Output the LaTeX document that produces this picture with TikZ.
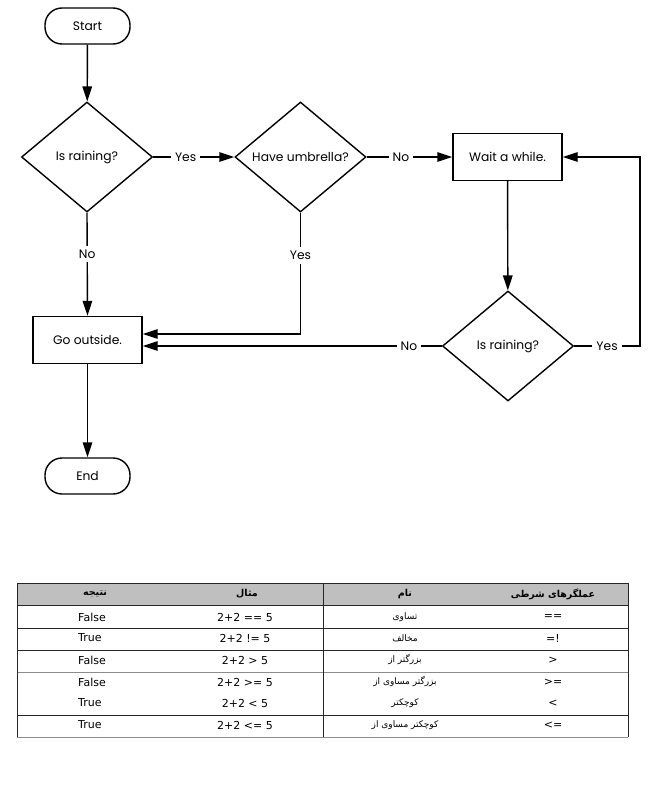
\documentclass[tikz,border=0pt]{standalone}
\usepackage{fontspec}
\setmainfont{Poppins}
\newfontfamily\tabfont{DejaVu Sans}
\newfontfamily\arabicfont[Script=Arabic]{DejaVu Sans}
\TeXXeTstate=1
\usetikzlibrary{shapes.geometric,arrows.meta}
\begin{document}
\begin{tikzpicture}[x=1pt,y=-1pt,
  flow/.style={draw,line width=1.4pt,font=\fontsize{12.3}{14}\selectfont,inner sep=0pt},
  term/.style={flow,rectangle,rounded corners=17pt,minimum width=85pt,minimum height=36pt},
  proc/.style={flow,rectangle,minimum width=109pt,minimum height=47pt},
  dec/.style={flow,diamond,minimum width=131pt,minimum height=110pt},
  conn/.style={line width=1.4pt,-{Triangle[length=15pt,width=9.5pt]}},
  lbl/.style={fill=white,inner sep=4pt,font=\fontsize{12.3}{14}\selectfont},
  tline/.style={line width=0.8pt,draw=black!85},
  gline/.style={line width=0.8pt,draw=black!45},
  ttxt/.style={font=\tabfont\fontsize{11}{12}\selectfont,inner sep=0pt},
  ptxt/.style={font=\arabicfont\fontsize{9}{10}\selectfont,inner sep=0pt},
  htxt/.style={font=\arabicfont\bfseries\fontsize{9.5}{11}\selectfont,inner sep=0pt}]
\useasboundingbox (0,0) rectangle (661,800);
% flowchart nodes
\node[term] (start) at (87.5,26) {Start};
\node[dec]  (d1) at (87,157) {Is raining?};
\node[dec]  (d2) at (300.5,157) {Have umbrella?};
\node[proc] (wait) at (507.5,157) {Wait a while.};
\node[dec]  (d3) at (508,346) {Is raining?};
\node[proc] (go) at (87.5,340) {Go outside.};
\node[term] (end) at (87.5,476) {End};
\coordinate (c1) at (300.5,334);
\coordinate (c2) at (640,346);
% connectors
\draw[conn] (start) -- (d1);
\draw[conn] (d1.east) -- node[lbl,pos=0.4]{Yes} (d2.west);
\draw[conn] (d2.east) -- node[lbl,pos=0.4]{No} (wait.west);
\draw[conn] (wait) -- (d3);
\draw[conn] (d1.south) -- node[lbl,pos=0.4]{No} (go.north);
\draw[conn] (d2.south) -- node[lbl,pos=0.35]{Yes} (c1) -- (go.east |- c1);
\draw[conn] (d3.west) -- node[lbl,pos=0.11]{No} (go.east |- d3.west);
\draw[conn] (d3.east) -- node[lbl,pos=0.5]{Yes} (c2) -- (c2 |- wait.east) -- (wait.east);
\draw[conn] (go) -- (end);
% table
\fill[black!25] (17,583) rectangle (628,605);
\draw[tline] (17,583) -- (628,583);
\draw[tline] (17,605) -- (628,605);
\draw[tline] (17,628) -- (628,628);
\draw[tline] (17,650) -- (628,650);
\draw[gline] (17,672) -- (628,672);
\draw[tline] (17,715) -- (628,715);
\draw[gline] (17,737) -- (628,737);
\draw[tline] (17,583) -- (17,737);
\draw[tline] (628,583) -- (628,737);
\draw[tline] (323,583) -- (323,737);
% header
\node[htxt] (h1) at (95,594) {\beginR نتیجه\endR};
\node[htxt] (h2) at (247,594) {\beginR مثال\endR};
\node[htxt] (h3) at (405,594) {\beginR نام\endR};
\node[htxt] (h4) at (553,594) {\beginR عملگرهای شرطی\endR};
% column 1
\node[ttxt,anchor=west] (r1c1) at (78,617) {False};
\node[ttxt,anchor=west] (r2c1) at (78,638) {True};
\node[ttxt,anchor=west] (r3c1) at (78,660) {False};
\node[ttxt,anchor=west] (r4c1) at (78,682) {False};
\node[ttxt,anchor=west] (r5c1) at (78,703) {True};
\node[ttxt,anchor=west] (r6c1) at (78,725) {True};
% column 2
\node[ttxt] (r1c2) at (245,617) {2+2 == 5};
\node[ttxt] (r2c2) at (245,638) {2+2 != 5};
\node[ttxt] (r3c2) at (245,660) {2+2 > 5};
\node[ttxt] (r4c2) at (245,682) {2+2 >= 5};
\node[ttxt] (r5c2) at (245,703) {2+2 < 5};
\node[ttxt] (r6c2) at (245,725) {2+2 <= 5};
% column 3
\node[ptxt] (r1c3) at (405,617) {\beginR تساوی\endR};
\node[ptxt] (r2c3) at (405,638) {\beginR مخالف\endR};
\node[ptxt] (r3c3) at (405,660) {\beginR بزرگتر از\endR};
\node[ptxt] (r4c3) at (405,682) {\beginR بزرگتر مساوی از\endR};
\node[ptxt] (r5c3) at (405,703) {\beginR کوچکتر\endR};
\node[ptxt] (r6c3) at (405,725) {\beginR کوچکتر مساوی از\endR};
% column 4
\node[ttxt] (r1c4) at (553,617) {==};
\node[ttxt] (r2c4) at (553,638) {=!};
\node[ttxt] (r3c4) at (553,660) {>};
\node[ttxt] (r4c4) at (553,682) {>=};
\node[ttxt] (r5c4) at (553,703) {<};
\node[ttxt] (r6c4) at (553,725) {<=};
\end{tikzpicture}
\end{document}
